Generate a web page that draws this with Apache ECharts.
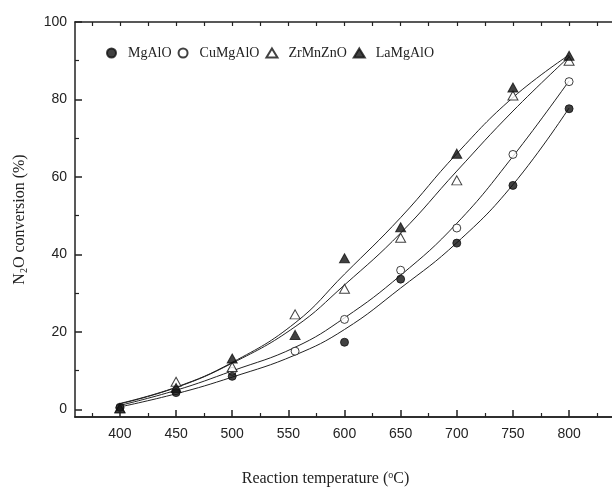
<!DOCTYPE html>
<html>
<head>
<meta charset="utf-8">
<script src="https://cdn.jsdelivr.net/npm/echarts@6/dist/echarts.min.js"></script>
<style>
  html, body { margin: 0; padding: 0; background: #fff; }
  #chart { width: 612px; height: 488px; }
</style>
</head>
<body>
<div id="chart"></div>
<script>
const SERIF = '"Liberation Serif", "Times New Roman", serif';
const SANS = '"Liberation Sans", Arial, sans-serif';

// reaction temperatures (points sit at ~556, not 550)
const TEMPS = [ 400, 450, 500, 556, 600, 650, 700, 750, 800 ];

// measured conversions (%)
const MG_ALO = [ 0.5, 4.3, 8.5, null, 17.3, 33.6, 42.9, 57.8, 77.6 ];
const CU_MG_ALO = [ 0.3, 4.8, 9.8, 15.0, 23.2, 35.9, 46.8, 65.8, 84.6 ];
const ZR_MN_ZNO = [ 0.2, 7.1, 10.9, 24.5, 31.1, 44.3, 59.1, 81.0, 90.0 ];
const LA_MG_ALO = [ 0.3, 5.5, 13.1, 19.2, 39.0, 47.0, 66.0, 83.1, 91.3 ];

// fitted curves at the same temperatures
const MG_ALO_FIT = [ 0.6, 4.0, 8.3, 14.0, 20.6, 31.3, 43.0, 58.0, 77.8 ];
const CU_MG_ALO_FIT = [ 1.0, 4.9, 9.9, 16.0, 23.6, 34.6, 48.0, 65.3, 84.8 ];
const ZR_MN_ZNO_FIT = [ 1.4, 5.6, 11.9, 21.3, 32.1, 45.5, 61.5, 77.0, 91.0 ];
const LA_MG_ALO_FIT = [ 1.5, 5.7, 12.1, 22.3, 34.9, 49.5, 66.0, 80.5, 91.5 ];

// axis ticks
const X_MAJOR = [ 400, 450, 500, 550, 600, 650, 700, 750, 800 ];
const X_MINOR = [ 375, 425, 475, 525, 575, 625, 675, 725, 775, 825 ];
const X_TOP = [ 375, 400, 425, 450, 475, 500, 525, 550, 575, 600, 625, 650, 675, 700, 725, 750, 775, 800, 825 ];
const Y_MAJOR = [ 0, 20, 40, 60, 80, 100 ];
const Y_MINOR = [ 10, 30, 50, 70, 90 ];

const LINE_COLOR = '#222';

function pairs(xs, ys) {
  return xs.map((x, i) => [ x, ys[i] ]);
}

function fitLine(name, values) {
  return {
    name: name,
    type: 'line',
    data: pairs(TEMPS, values),
    smooth: 0.45,
    symbol: 'none',
    silent: true,
    z: 1,
    lineStyle: { color: LINE_COLOR, width: 1 }
  };
}

function points(name, values, symbol, filled) {
  return {
    name: name,
    type: 'scatter',
    data: pairs(TEMPS, values).filter(p => p[1] !== null),
    symbol: symbol,
    symbolSize: symbol === 'triangle' ? [ 10, 9 ] : 8,
    z: 3,
    itemStyle: filled
      ? { color: '#111', borderColor: '#111', borderWidth: 1 }
      : { color: '#fff', borderColor: '#111', borderWidth: 1 }
  };
}

function tickAxis(extra) {
  return Object.assign({
    type: 'value',
    min: 360,
    max: 840,
    gridIndex: 0,
    splitLine: { show: false },
    axisLine: { show: true, onZero: false, lineStyle: { color: LINE_COLOR, width: 1.5 } }
  }, extra);
}

let chart = echarts.init(document.querySelector('#chart'), null, { renderer: 'canvas' });

let option = {
  backgroundColor: '#fff',
  animation: false,
  grid: {
    left: 75, top: 22, width: 539, height: 395,
    containLabel: false,
    outerBoundsMode: 'none'
  },
  legend: {
    data: [ 'MgAlO', 'CuMgAlO', 'ZrMnZnO', 'LaMgAlO' ],
    left: 101,
    top: 41,
    itemWidth: 11,
    itemHeight: 9,
    itemGap: 6,
    textStyle: { fontFamily: SERIF, fontSize: 14, color: '#222', padding: [ 0, 0, 0, 6 ] }
  },
  xAxis: [
    tickAxis({
      position: 'bottom',
      name: 'Reaction temperature ({sup|o}C)',
      nameLocation: 'middle',
      nameGap: 53,
      nameTextStyle: {
        fontFamily: SERIF, fontSize: 16, color: '#222',
        padding: [ 0, 38, 0, 0 ],
        rich: { sup: { fontFamily: SERIF, fontSize: 10, color: '#222', padding: [ 0, 0, 8, 0 ] } }
      },
      axisTick: { show: true, inside: true, length: 7, customValues: X_MAJOR,
        lineStyle: { color: LINE_COLOR, width: 1.5 } },
      axisLabel: { show: true, customValues: X_MAJOR, margin: 10,
        fontFamily: SANS, fontSize: 14, color: '#222' }
    }),
    tickAxis({
      position: 'bottom',
      axisTick: { show: true, inside: true, length: 4, customValues: X_MINOR,
        lineStyle: { color: LINE_COLOR, width: 1.2 } },
      axisLabel: { show: false }
    }),
    tickAxis({
      position: 'top',
      axisTick: { show: true, inside: true, length: 4, customValues: X_TOP,
        lineStyle: { color: LINE_COLOR, width: 1.2 } },
      axisLabel: { show: false }
    })
  ],
  yAxis: [
    {
      type: 'value',
      min: -2,
      max: 100,
      splitLine: { show: false },
      axisLine: { show: true, onZero: false, lineStyle: { color: LINE_COLOR, width: 1.5 } },
      axisTick: { show: true, inside: true, length: 7, customValues: Y_MAJOR,
        lineStyle: { color: LINE_COLOR, width: 1.5 } },
      axisLabel: { show: true, customValues: Y_MAJOR, margin: 8,
        fontFamily: SANS, fontSize: 14, color: '#222' },
      name: 'N{sub|2}O conversion (%)',
      nameLocation: 'middle',
      nameGap: 46,
      nameTextStyle: {
        fontFamily: SERIF, fontSize: 16, color: '#222',
        rich: { sub: { fontFamily: SERIF, fontSize: 10, color: '#222', padding: [ 8, 0, 0, 0 ] } }
      }
    },
    {
      type: 'value',
      min: -2,
      max: 100,
      position: 'left',
      splitLine: { show: false },
      axisLine: { show: false, onZero: false },
      axisTick: { show: true, inside: true, length: 4, customValues: Y_MINOR,
        lineStyle: { color: LINE_COLOR, width: 1.2 } },
      axisLabel: { show: false }
    }
  ],
  series: [
    fitLine('MgAlO fit', MG_ALO_FIT),
    fitLine('CuMgAlO fit', CU_MG_ALO_FIT),
    fitLine('ZrMnZnO fit', ZR_MN_ZNO_FIT),
    fitLine('LaMgAlO fit', LA_MG_ALO_FIT),
    points('CuMgAlO', CU_MG_ALO, 'circle', false),
    points('ZrMnZnO', ZR_MN_ZNO, 'triangle', false),
    points('MgAlO', MG_ALO, 'circle', true),
    points('LaMgAlO', LA_MG_ALO, 'triangle', true)
  ]
};

chart.setOption(option);
</script>
</body>
</html>
